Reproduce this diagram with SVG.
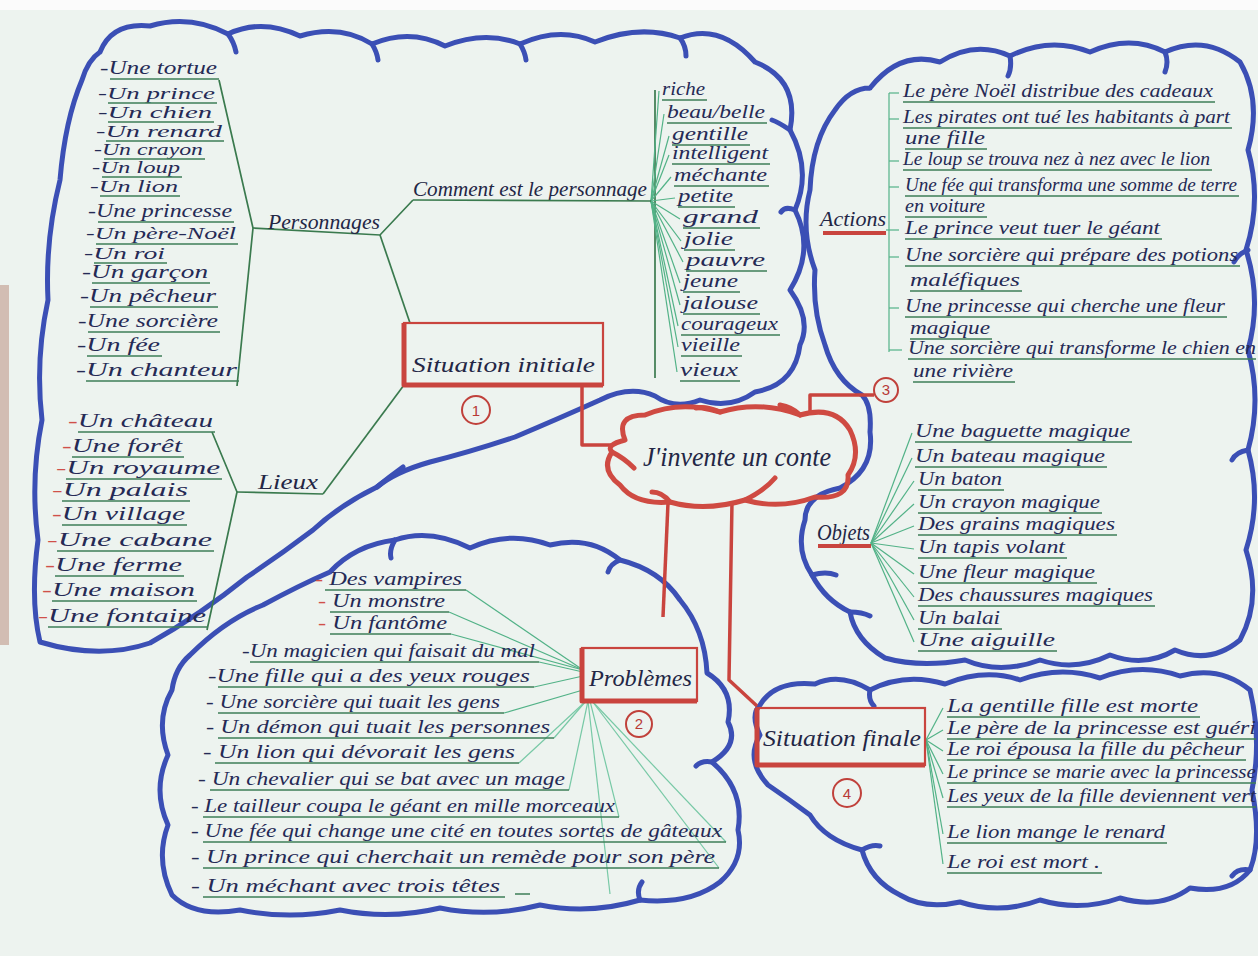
<svg xmlns="http://www.w3.org/2000/svg" width="1258" height="956" viewBox="0 0 1258 956">
<style>
.t{font-family:"Liberation Serif","DejaVu Serif",serif;font-style:italic;fill:#252a55;font-size:19px}
.s{font-size:16px}
.lb{font-family:"Liberation Serif","DejaVu Serif",serif;font-style:italic;fill:#232645;font-size:22px}
.num{font-family:"Liberation Sans","DejaVu Sans",sans-serif;fill:#b83a36;font-size:15px;text-anchor:middle}
.rd{fill:#d0504a}
.ul{stroke:#3e7f58;stroke-width:1.7;fill:none}
.br{stroke:#3a7a4e;stroke-width:1.7;fill:none}
.fan{stroke:#52b287;stroke-width:1.2;fill:none}
.fan2{stroke:#78c9a6;stroke-width:1.2;fill:none}
.red{stroke:#c9443e;stroke-width:3.5;fill:none;stroke-linejoin:round}
.box{stroke:#c9443e;stroke-width:2.2;fill:none}
.cloud{stroke:#3b4fb5;stroke-width:5;fill:none;stroke-linecap:round;stroke-linejoin:round}
.rcloud{stroke:#cf4a42;stroke-width:5;fill:none;stroke-linecap:round;stroke-linejoin:round}
.circ{stroke:#c0413b;stroke-width:2;fill:none}
</style>
<rect width="1258" height="956" fill="#edf3ef"/>
<rect width="1258" height="10" fill="#fbfbfb"/>
<rect x="0" y="285" width="9" height="360" fill="#d2bdb3"/>

<g id="clouds">
<path class="cloud" d="M100,52 Q112,22 150,26 Q190,14 228,34 Q262,18 300,36 Q340,24 372,44 Q410,28 445,46 Q485,30 520,44 Q560,26 595,42 Q640,24 680,38 Q720,22 755,62 Q800,80 790,130 Q812,170 795,210 Q815,250 790,290 Q812,320 800,345 Q795,385 755,392 Q730,410 700,400 Q675,410 655,396 Q630,385 600,400 Q560,418 515,437 Q470,452 430,462 Q395,472 377,487 Q340,505 313,530 Q280,555 247,577 Q200,615 150,643 Q100,660 40,642 Q30,600 38,540 Q30,480 42,420 Q35,360 48,300 Q45,240 60,180 Q65,120 82,80 Q88,60 100,52"/>
<path class="cloud" d="M228,34 q6,8 8,18 M372,44 q5,8 6,16 M520,44 q5,8 6,16 M680,38 q6,8 6,18 M790,130 q-12,-8 -18,-10 M795,210 q-10,-4 -14,2 M377,487 q12,-10 26,-20"/>
<path class="cloud" d="M870,88 Q900,50 940,62 Q975,40 1010,56 Q1050,36 1090,52 Q1130,34 1165,52 Q1205,34 1240,62 Q1262,100 1248,150 Q1262,200 1246,250 Q1262,300 1248,350 Q1262,400 1248,450 Q1262,500 1246,550 Q1262,600 1240,640 Q1210,665 1175,650 Q1145,668 1110,655 Q1075,672 1040,660 Q1000,675 965,660 Q920,668 885,658 Q855,640 850,612 Q825,600 812,575 Q795,550 805,520 Q805,495 840,488 Q875,470 870,432 Q872,405 862,395 Q835,380 825,345 Q812,310 815,270 Q800,230 810,190 Q812,140 835,110 Q850,88 870,88"/>
<path class="cloud" d="M1010,56 q2,12 -2,20 M1165,52 q4,10 0,20 M1248,250 q-10,4 -14,12 M1248,450 q-12,2 -16,10 M812,575 q14,-4 24,0 M850,612 q12,0 20,4"/>
<path class="cloud" d="M190,655 Q225,620 263,605 Q300,585 330,572 Q355,545 395,540 Q430,528 470,548 Q510,530 550,545 Q590,535 620,560 Q660,570 680,600 Q705,630 707,673 Q735,690 728,722 Q740,745 712,762 Q745,790 738,830 Q745,860 720,882 Q690,905 640,900 Q590,915 540,905 Q490,918 440,908 Q390,920 340,910 Q290,920 240,910 Q195,918 172,895 Q155,860 168,825 Q152,790 168,755 Q155,720 172,690 Q175,668 190,655"/>
<path class="cloud" d="M395,540 q-6,10 -4,18 M620,560 q-10,4 -12,12 M712,762 q-10,-2 -16,4 M640,900 q-4,-10 2,-18"/>
<path class="cloud" d="M760,705 Q775,680 815,684 Q840,672 870,690 Q905,672 945,684 Q985,668 1020,680 Q1060,665 1100,678 Q1140,662 1180,676 Q1220,665 1250,690 Q1262,740 1252,790 Q1262,840 1250,870 Q1230,895 1190,888 Q1160,910 1120,898 Q1080,912 1040,900 Q1000,915 960,902 Q925,910 900,895 Q870,880 862,850 Q825,840 810,815 Q790,800 768,785 Q745,760 760,735 Q750,715 760,705"/>
<path class="cloud" d="M870,690 q-2,10 4,16 M1250,870 q-12,-2 -18,6 M862,850 q10,-6 18,-4"/>
</g>

<g id="connectors">
<polyline class="br" points="219,80 253,228 237,386"/>
<polyline class="br" points="253,228 380,235 413,200"/>
<line class="br" x1="380" y1="235" x2="410" y2="323"/>
<polyline class="br" points="212,432 237,492 207,630"/>
<line class="br" x1="323" y1="494" x2="404" y2="385"/>
<polyline class="red" points="582,386 582,445 612,445"/>
<polyline class="red" points="810,414 810,395 874,395"/>
<line class="red" x1="668" y1="503" x2="663" y2="617"/>
<polyline class="red" points="732,502 729,680 757,706"/>
<line class="br" x1="655" y1="90" x2="655" y2="378"/>
<g class="fan">
<line x1="651" y1="201" x2="659" y2="91"/><line x1="651" y1="201" x2="664" y2="114"/><line x1="651" y1="201" x2="669" y2="136"/><line x1="651" y1="201" x2="669" y2="155"/><line x1="651" y1="201" x2="671" y2="177"/><line x1="651" y1="201" x2="675" y2="198"/><line x1="651" y1="201" x2="680" y2="219"/><line x1="651" y1="201" x2="681" y2="241"/><line x1="651" y1="201" x2="683" y2="262"/><line x1="651" y1="201" x2="680" y2="283"/><line x1="651" y1="201" x2="680" y2="305"/><line x1="651" y1="201" x2="678" y2="326"/><line x1="651" y1="201" x2="678" y2="347"/><line x1="651" y1="201" x2="677" y2="372"/>
</g>
<line class="fan" x1="889" y1="93" x2="889" y2="352"/>
<g class="fan">
<line x1="889" y1="93" x2="899" y2="93"/><line x1="889" y1="119" x2="899" y2="119"/><line x1="889" y1="161" x2="899" y2="161"/><line x1="889" y1="187" x2="899" y2="187"/><line x1="886" y1="230" x2="899" y2="230"/><line x1="889" y1="257" x2="899" y2="257"/><line x1="889" y1="308" x2="899" y2="308"/><line x1="889" y1="350" x2="902" y2="350"/>
</g>
<g class="fan">
<line x1="871" y1="543" x2="912" y2="433"/><line x1="871" y1="543" x2="912" y2="458"/><line x1="871" y1="543" x2="914" y2="481"/><line x1="871" y1="543" x2="914" y2="504"/><line x1="871" y1="543" x2="914" y2="526"/><line x1="871" y1="543" x2="914" y2="549"/><line x1="871" y1="543" x2="914" y2="574"/><line x1="871" y1="543" x2="914" y2="597"/><line x1="871" y1="543" x2="914" y2="620"/><line x1="871" y1="543" x2="914" y2="642"/>
</g>
<g class="fan">
<line x1="583" y1="670" x2="466" y2="590"/><line x1="583" y1="670" x2="449" y2="612"/><line x1="583" y1="670" x2="451" y2="634"/><line x1="583" y1="672" x2="539" y2="662"/><line x1="583" y1="676" x2="534" y2="687"/><line x1="583" y1="690" x2="504" y2="713"/>
</g>
<g class="fan2">
<line x1="586" y1="701" x2="554" y2="738"/><line x1="586" y1="701" x2="519" y2="763"/><line x1="588" y1="701" x2="569" y2="790"/><line x1="590" y1="701" x2="619" y2="817"/><line x1="592" y1="701" x2="726" y2="842"/><line x1="592" y1="701" x2="719" y2="868"/><line x1="588" y1="701" x2="610" y2="894"/>
</g>
<g class="fan">
<line x1="926" y1="740" x2="943" y2="708"/><line x1="926" y1="740" x2="943" y2="730"/><line x1="926" y1="740" x2="943" y2="751"/><line x1="926" y1="740" x2="943" y2="774"/><line x1="926" y1="740" x2="943" y2="798"/><line x1="926" y1="740" x2="943" y2="834"/><line x1="926" y1="740" x2="943" y2="864"/>
</g>
</g>

<g id="center">
<path class="rcloud" d="M625,440 Q615,415 645,415 Q680,400 720,412 Q760,400 800,415 Q835,405 850,430 Q862,455 848,475 Q850,500 815,497 Q780,510 745,500 Q705,512 670,502 Q635,505 620,485 Q600,470 612,452 Q605,445 625,440"/>
<path class="rcloud" d="M612,452 q12,6 22,16 M720,412 q-14,-6 -24,-4 M800,415 q-8,-8 -20,-10 M745,500 q20,-10 30,-22 M670,502 q-8,-10 -18,-10"/>
<text class="lb" x="643" y="466" textLength="188" lengthAdjust="spacingAndGlyphs" style="font-size:28px">J'invente un conte</text>
</g>

<g id="situation-initiale">
<rect class="box" x="404" y="323" width="199" height="62"/>
<path class="red" d="M404,323 V385 H603" style="stroke-width:5"/>
<text class="lb" x="412" y="372" textLength="183" lengthAdjust="spacingAndGlyphs">Situation initiale</text>
<circle class="circ" cx="476" cy="410" r="14"/>
<text class="num" x="476" y="416">1</text>
</g>

<g id="personnages">
<text class="lb" x="268" y="229" textLength="112" lengthAdjust="spacingAndGlyphs" style="font-size:20px">Personnages</text>
<text class="t" x="100" y="74" textLength="117" lengthAdjust="spacingAndGlyphs">-Une tortue</text>
<text class="t s" x="98" y="99" textLength="117" lengthAdjust="spacingAndGlyphs">-Un prince</text>
<text class="t s" x="98" y="118" textLength="114" lengthAdjust="spacingAndGlyphs">-Un chien</text>
<text class="t s" x="96" y="137" textLength="126" lengthAdjust="spacingAndGlyphs">-Un renard</text>
<text class="t s" x="94" y="155" textLength="109" lengthAdjust="spacingAndGlyphs">-Un crayon</text>
<text class="t s" x="92" y="173" textLength="88" lengthAdjust="spacingAndGlyphs">-Un loup</text>
<text class="t s" x="90" y="192" textLength="88" lengthAdjust="spacingAndGlyphs">-Un lion</text>
<text class="t" x="88" y="217" textLength="144" lengthAdjust="spacingAndGlyphs">-Une princesse</text>
<text class="t s" x="86" y="239" textLength="150" lengthAdjust="spacingAndGlyphs">-Un père-Noël</text>
<text class="t s" x="84" y="259" textLength="81" lengthAdjust="spacingAndGlyphs">-Un roi</text>
<text class="t" x="82" y="278" textLength="126" lengthAdjust="spacingAndGlyphs">-Un garçon</text>
<text class="t" x="80" y="302" textLength="136" lengthAdjust="spacingAndGlyphs">-Un pêcheur</text>
<text class="t" x="78" y="327" textLength="140" lengthAdjust="spacingAndGlyphs">-Une sorcière</text>
<text class="t" x="77" y="351" textLength="83" lengthAdjust="spacingAndGlyphs">-Un fée</text>
<text class="t" x="76" y="376" textLength="161" lengthAdjust="spacingAndGlyphs">-Un chanteur</text>
<path class="ul" d="M110,79H219 M108,103H217 M108,122H214 M106,141H224 M104,159H205 M102,177H182 M100,196H180 M98,222H234 M96,244H238 M94,263H167 M92,283H210 M90,307H218 M88,332H220 M87,356H162 M86,381H239"/>
</g>

<g id="comment-personnage">
<text class="lb" x="413" y="196" textLength="234" lengthAdjust="spacingAndGlyphs" style="font-size:20px">Comment est le personnage</text>
<line class="br" x1="413" y1="200" x2="651" y2="201"/>
<text class="t" x="662" y="95" textLength="43" lengthAdjust="spacingAndGlyphs">riche</text>
<text class="t" x="667" y="118" textLength="98" lengthAdjust="spacingAndGlyphs">beau/belle</text>
<text class="t" x="672" y="140" textLength="76" lengthAdjust="spacingAndGlyphs">gentille</text>
<text class="t" x="672" y="159" textLength="96" lengthAdjust="spacingAndGlyphs">intelligent</text>
<text class="t" x="674" y="181" textLength="93" lengthAdjust="spacingAndGlyphs">méchante</text>
<text class="t" x="678" y="202" textLength="55" lengthAdjust="spacingAndGlyphs">petite</text>
<text class="t" x="683" y="223" textLength="75" lengthAdjust="spacingAndGlyphs">grand</text>
<text class="t" x="684" y="245" textLength="49" lengthAdjust="spacingAndGlyphs">jolie</text>
<text class="t" x="686" y="266" textLength="79" lengthAdjust="spacingAndGlyphs">pauvre</text>
<text class="t" x="683" y="287" textLength="55" lengthAdjust="spacingAndGlyphs">jeune</text>
<text class="t" x="683" y="309" textLength="75" lengthAdjust="spacingAndGlyphs">jalouse</text>
<text class="t" x="681" y="330" textLength="97" lengthAdjust="spacingAndGlyphs">courageux</text>
<text class="t" x="681" y="351" textLength="59" lengthAdjust="spacingAndGlyphs">vieille</text>
<text class="t" x="680" y="376" textLength="58" lengthAdjust="spacingAndGlyphs">vieux</text>
<path class="ul" d="M662,100H707 M667,123H767 M672,145H750 M672,164H770 M674,186H769 M678,207H735 M683,228H760 M684,250H735 M686,271H767 M683,292H740 M683,314H760 M681,335H780 M681,356H742 M680,381H740"/>
</g>

<g id="lieux">
<text class="lb" x="258" y="489" textLength="60" lengthAdjust="spacingAndGlyphs" style="font-size:20px">Lieux</text>
<line class="br" x1="237" y1="492" x2="323" y2="494"/>
<text class="t" x="68" y="427" textLength="145" lengthAdjust="spacingAndGlyphs"><tspan class="rd">-</tspan>Un château</text>
<text class="t" x="62" y="452" textLength="120" lengthAdjust="spacingAndGlyphs"><tspan class="rd">-</tspan>Une forêt</text>
<text class="t" x="56" y="474" textLength="164" lengthAdjust="spacingAndGlyphs"><tspan class="rd">-</tspan>Un royaume</text>
<text class="t" x="52" y="496" textLength="136" lengthAdjust="spacingAndGlyphs"><tspan class="rd">-</tspan>Un palais</text>
<text class="t" x="52" y="520" textLength="133" lengthAdjust="spacingAndGlyphs"><tspan class="rd">-</tspan>Un village</text>
<text class="t" x="47" y="546" textLength="165" lengthAdjust="spacingAndGlyphs"><tspan class="rd">-</tspan>Une cabane</text>
<text class="t" x="45" y="571" textLength="137" lengthAdjust="spacingAndGlyphs"><tspan class="rd">-</tspan>Une ferme</text>
<text class="t" x="42" y="596" textLength="153" lengthAdjust="spacingAndGlyphs"><tspan class="rd">-</tspan>Une maison</text>
<text class="t" x="38" y="622" textLength="168" lengthAdjust="spacingAndGlyphs"><tspan class="rd">-</tspan>Une fontaine</text>
<path class="ul" d="M78,432H215 M72,457H184 M66,479H222 M62,501H190 M62,525H187 M57,551H214 M55,576H184 M52,601H197 M48,627H208"/>
</g>

<g id="actions">
<text class="lb" x="820" y="226" textLength="66" lengthAdjust="spacingAndGlyphs">Actions</text>
<line class="red" x1="823" y1="233" x2="886" y2="233" style="stroke-width:4"/>
<circle class="circ" cx="886" cy="390" r="12"/>
<text class="num" x="886" y="395">3</text>
<text class="t" x="903" y="97" textLength="310" lengthAdjust="spacingAndGlyphs">Le père Noël distribue des cadeaux</text>
<text class="t" x="903" y="123" textLength="327" lengthAdjust="spacingAndGlyphs">Les pirates ont tué les habitants à part</text>
<text class="t" x="905" y="144" textLength="80" lengthAdjust="spacingAndGlyphs">une fille</text>
<text class="t" x="903" y="165" textLength="307" lengthAdjust="spacingAndGlyphs">Le loup se trouva nez à nez avec le lion</text>
<text class="t" x="905" y="191" textLength="332" lengthAdjust="spacingAndGlyphs">Une fée qui transforma une somme de terre</text>
<text class="t" x="905" y="212" textLength="80" lengthAdjust="spacingAndGlyphs">en voiture</text>
<text class="t" x="905" y="234" textLength="255" lengthAdjust="spacingAndGlyphs">Le prince veut tuer le géant</text>
<text class="t" x="905" y="261" textLength="333" lengthAdjust="spacingAndGlyphs">Une sorcière qui prépare des potions</text>
<text class="t" x="910" y="286" textLength="110" lengthAdjust="spacingAndGlyphs">maléfiques</text>
<text class="t" x="905" y="312" textLength="320" lengthAdjust="spacingAndGlyphs">Une princesse qui cherche une fleur</text>
<text class="t" x="910" y="334" textLength="80" lengthAdjust="spacingAndGlyphs">magique</text>
<text class="t" x="908" y="354" textLength="348" lengthAdjust="spacingAndGlyphs">Une sorcière qui transforme le chien en</text>
<text class="t" x="913" y="377" textLength="100" lengthAdjust="spacingAndGlyphs">une rivière</text>
<path class="ul" d="M903,102H1215 M903,128H1232 M905,149H987 M903,170H1212 M905,196H1239 M905,217H987 M905,239H1162 M905,266H1240 M910,291H1022 M905,317H1227 M910,339H992 M908,359H1256 M913,382H1015"/>
</g>

<g id="objets">
<text class="lb" x="817" y="540" textLength="53" lengthAdjust="spacingAndGlyphs" style="font-size:24px">Objets</text>
<line class="red" x1="818" y1="546" x2="871" y2="546" style="stroke-width:4"/>
<text class="t" x="915" y="437" textLength="215" lengthAdjust="spacingAndGlyphs">Une baguette magique</text>
<text class="t" x="915" y="462" textLength="190" lengthAdjust="spacingAndGlyphs">Un bateau magique</text>
<text class="t" x="918" y="485" textLength="84" lengthAdjust="spacingAndGlyphs">Un baton</text>
<text class="t" x="918" y="508" textLength="182" lengthAdjust="spacingAndGlyphs">Un crayon magique</text>
<text class="t" x="918" y="530" textLength="197" lengthAdjust="spacingAndGlyphs">Des grains magiques</text>
<text class="t" x="918" y="553" textLength="147" lengthAdjust="spacingAndGlyphs">Un tapis volant</text>
<text class="t" x="918" y="578" textLength="177" lengthAdjust="spacingAndGlyphs">Une fleur magique</text>
<text class="t" x="918" y="601" textLength="235" lengthAdjust="spacingAndGlyphs">Des chaussures magiques</text>
<text class="t" x="918" y="624" textLength="82" lengthAdjust="spacingAndGlyphs">Un balai</text>
<text class="t" x="918" y="646" textLength="137" lengthAdjust="spacingAndGlyphs">Une aiguille</text>
<path class="ul" d="M915,442H1132 M915,467H1107 M918,490H1004 M918,513H1102 M918,535H1117 M918,558H1067 M918,583H1097 M918,606H1155 M918,629H1002 M918,651H1057"/>
</g>

<g id="problemes">
<rect class="box" x="582" y="648" width="115" height="53"/>
<path class="red" d="M582,648 V701 H697" style="stroke-width:5"/>
<text class="lb" x="589" y="686" textLength="103" lengthAdjust="spacingAndGlyphs" style="font-size:24px">Problèmes</text>
<circle class="circ" cx="639" cy="724" r="13"/>
<text class="num" x="639" y="729">2</text>
<text class="t" x="315" y="585" textLength="147" lengthAdjust="spacingAndGlyphs"><tspan class="rd">- </tspan>Des vampires</text>
<text class="t" x="318" y="607" textLength="127" lengthAdjust="spacingAndGlyphs"><tspan class="rd">- </tspan>Un monstre</text>
<text class="t" x="318" y="629" textLength="129" lengthAdjust="spacingAndGlyphs"><tspan class="rd">- </tspan>Un fantôme</text>
<text class="t" x="242" y="657" textLength="293" lengthAdjust="spacingAndGlyphs">-Un magicien qui faisait du mal</text>
<text class="t" x="208" y="682" textLength="322" lengthAdjust="spacingAndGlyphs">-Une fille qui a des yeux rouges</text>
<text class="t" x="206" y="708" textLength="294" lengthAdjust="spacingAndGlyphs">- Une sorcière qui tuait les gens</text>
<text class="t" x="206" y="733" textLength="344" lengthAdjust="spacingAndGlyphs">- Un démon qui tuait les personnes</text>
<text class="t" x="203" y="758" textLength="312" lengthAdjust="spacingAndGlyphs">- Un lion qui dévorait les gens</text>
<text class="t" x="198" y="785" textLength="367" lengthAdjust="spacingAndGlyphs">- Un chevalier qui se bat avec un mage</text>
<text class="t" x="191" y="812" textLength="424" lengthAdjust="spacingAndGlyphs">- Le tailleur coupa le géant en mille morceaux</text>
<text class="t" x="191" y="837" textLength="531" lengthAdjust="spacingAndGlyphs">- Une fée qui change une cité en toutes sortes de gâteaux</text>
<text class="t" x="191" y="863" textLength="524" lengthAdjust="spacingAndGlyphs">- Un prince qui cherchait un remède pour son père</text>
<text class="t" x="191" y="892" textLength="309" lengthAdjust="spacingAndGlyphs">- Un méchant avec trois têtes</text>
<path class="ul" d="M325,590H466 M330,612H449 M330,634H451 M250,662H539 M218,687H534 M218,713H504 M218,738H554 M215,763H519 M210,790H569 M203,817H619 M203,842H726 M203,868H719 M203,897H505 M515,894H530"/>
</g>

<g id="situation-finale">
<rect class="box" x="757" y="708" width="168" height="57"/>
<path class="red" d="M757,708 V765 H925" style="stroke-width:5"/>
<text class="lb" x="763" y="746" textLength="158" lengthAdjust="spacingAndGlyphs" style="font-size:24px">Situation finale</text>
<circle class="circ" cx="847" cy="793" r="14"/>
<text class="num" x="847" y="799">4</text>
<text class="t" x="947" y="712" textLength="251" lengthAdjust="spacingAndGlyphs">La gentille fille est morte</text>
<text class="t" x="947" y="734" textLength="309" lengthAdjust="spacingAndGlyphs">Le père de la princesse est guéri</text>
<text class="t" x="947" y="755" textLength="297" lengthAdjust="spacingAndGlyphs">Le roi épousa la fille du pêcheur</text>
<text class="t" x="947" y="778" textLength="309" lengthAdjust="spacingAndGlyphs">Le prince se marie avec la princesse</text>
<text class="t" x="947" y="802" textLength="309" lengthAdjust="spacingAndGlyphs">Les yeux de la fille deviennent vert</text>
<text class="t" x="947" y="838" textLength="218" lengthAdjust="spacingAndGlyphs">Le lion mange le renard</text>
<text class="t" x="947" y="868" textLength="153" lengthAdjust="spacingAndGlyphs">Le roi est mort .</text>
<path class="ul" d="M947,717H1200 M947,739H1256 M947,760H1246 M947,783H1256 M947,807H1256 M947,843H1167 M947,873H1102"/>
</g>
</svg>
